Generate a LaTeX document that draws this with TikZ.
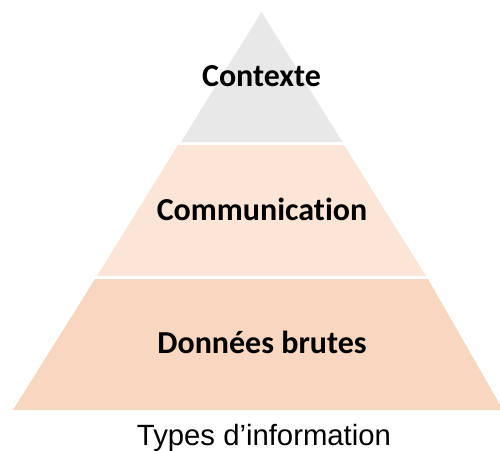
\documentclass[tikz,border=0pt]{standalone}
\usepackage{fontspec}
\setmainfont[RawFeature={-liga}]{Carlito}
\newfontfamily\arialf{Liberation Sans}
\definecolor{topc}{HTML}{E8E8E8}
\definecolor{midc}{HTML}{FBE5D7}
\definecolor{botc}{HTML}{F8D6BF}
\tikzset{lab/.style={font=\fontsize{32}{36}\selectfont\bfseries,text=black,inner sep=0pt,anchor=base},
captext/.style={font=\arialf\fontsize{29.3}{34}\selectfont,text=black,inner sep=0pt,anchor=base}}
\begin{document}
\begin{tikzpicture}[x=1pt,y=-1pt]
\useasboundingbox (0,0) rectangle (500,450);
\fill[white] (0,0) rectangle (500,450);
\fill[topc] (261.5,12) -- (342.5,142) -- (181,142) -- cycle;
\fill[midc] (178,145) -- (344,145) -- (426,276) -- (97,276) -- cycle;
\fill[botc] (95,279) -- (428,279) -- (503,410) -- (13,410) -- cycle;
\node[lab] (a) at (261.5,86.7) {Contexte};
\node[lab] (b) at (262,220.2) {Communication};
\node[lab] (c) at (262,353.7) {Données brutes};
\node[captext] (d) at (264,445) {Types d’information};
\end{tikzpicture}
\end{document}
